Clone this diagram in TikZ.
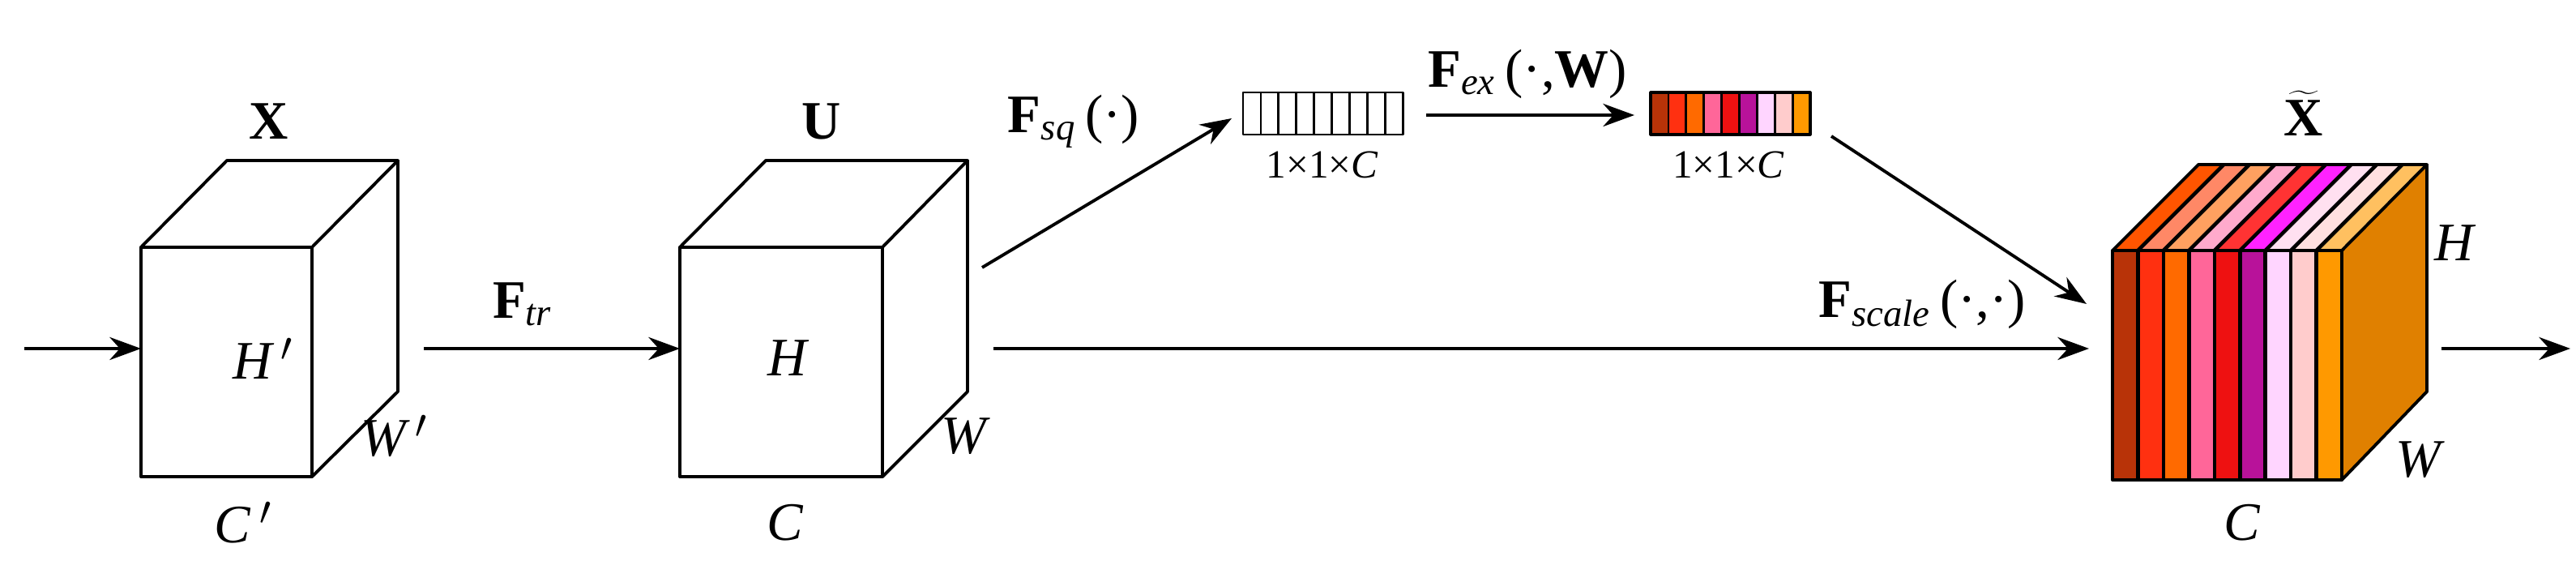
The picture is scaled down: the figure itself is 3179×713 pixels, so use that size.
\documentclass[tikz,border=0pt]{standalone}
\usepackage{fontspec}
\setmainfont{Liberation Serif}
\usetikzlibrary{arrows.meta}
\definecolor{c1}{HTML}{B83308}\definecolor{c2}{HTML}{FF3010}\definecolor{c3}{HTML}{FF6A00}
\definecolor{c4}{HTML}{FF6699}\definecolor{c5}{HTML}{EE1111}\definecolor{c6}{HTML}{B8129A}
\definecolor{c7}{HTML}{FFD5FF}\definecolor{c8}{HTML}{FFCCCC}\definecolor{c9}{HTML}{FF9900}
\definecolor{t1}{HTML}{FF5500}\definecolor{t2}{HTML}{FF8866}\definecolor{t3}{HTML}{FFA060}
\definecolor{t4}{HTML}{FFAACC}\definecolor{t5}{HTML}{FF3333}\definecolor{t6}{HTML}{FF22FF}
\definecolor{t7}{HTML}{FFE0F0}\definecolor{t8}{HTML}{FFE0E0}\definecolor{t9}{HTML}{FFC060}
\definecolor{side}{HTML}{E08000}
\tikzset{
 edge/.style={line width=1.1pt, line join=round},
 arr/.style={line width=1.1pt, -{Stealth[length=11pt,width=8pt]}},
 lab/.style={font=\fontsize{19}{22}\selectfont, inner sep=0pt},
 small/.style={font=\fontsize{14}{16}\selectfont, inner sep=0pt}
}
\begin{document}
\begin{tikzpicture}[x=0.01cm,y=-0.01cm]
\useasboundingbox (0,0) rectangle (3179,713);
% cube X
\draw[edge] (174,305) rectangle (385,588);
\draw[edge] (174,305) -- (280,198) -- (491,198) -- (385,305) (491,198) -- (491,483) -- (385,588);
\coordinate (xin) at (174,430);
\coordinate (start) at (30,430);
\node[lab] (lx) at (332,150) {\textbf{X}};
\node[lab] (lh1) at (325,442) {\textit{H\,}$'$};
\node[lab] (lw1) at (487,538) {\textit{W\,}$'$};
\node[lab] (lc1) at (300,645) {\textit{C\,}$'$};
% cube U
\draw[edge] (839,305) rectangle (1089,588);
\draw[edge] (839,305) -- (945,198) -- (1194,198) -- (1089,305) (1194,198) -- (1194,483) -- (1089,588);
\coordinate (uin) at (839,430);
\coordinate (uout) at (1226,430);
\coordinate (usq) at (1212,330);
\node[lab] (lu) at (1014,150) {\textbf{U}};
\node[lab] (lh2) at (973,442) {\textit{H}};
\node[lab] (lw2) at (1192,538) {\textit{W}};
\node[lab] (lc2) at (969,645) {\textit{C}};
% arrows
\draw[arr] (start) -- (xin);
\draw[arr] (523,430) -- (uin);
\node[lab] (ftr) at (645,375) {\textbf{F}\textsubscript{\textit{tr}}};
% white vector
\foreach \i in {0,...,8} \draw[edge, line width=0.8pt] (1534+\i*21.9,114) rectangle ++(21.9,52);
\coordinate (v1in) at (1520,146); \coordinate (v1out) at (1760,142);
\node[small] (l1) at (1632,203) {1×1×\textit{C}};
\draw[arr] (usq) -- (v1in);
\node[lab] (fsq) at (1325,150) {\textbf{F}\textsubscript{\textit{sq}}\,(·)};
% colored vector
\foreach \i in {1,...,9} \fill[c\i] (2037+\i*21.9-21.9,114) rectangle ++(21.9,52);
\foreach \i in {1,...,8} \draw[line width=0.8pt] (2037+\i*21.9,114) -- ++(0,52);
\draw[edge, line width=0.9pt] (2037,114) rectangle (2234,166);
\coordinate (v2in) at (2017,142); \coordinate (v2out) at (2260,168);
\node[small] (l2) at (2133,203) {1×1×\textit{C}};
\draw[arr] (v1out) -- (v2in);
\node[lab] (fex) at (1885,91) {\textbf{F}\textsubscript{\textit{ex}}\,(·,\textbf{W})};
% output cube
\def\sw{31.44}
\fill[side] (2890,309) -- (2995,203) -- (2995,483) -- (2890,592) -- cycle;
\foreach \i in {1,...,9}{
  \fill[c\i] (2607+\i*\sw-\sw,309) rectangle ++(\sw,283);
  \fill[t\i] (2607+\i*\sw-\sw,309) -- (2713+\i*\sw-\sw,203) -- (2713+\i*\sw,203) -- (2607+\i*\sw,309) -- cycle;
}
\foreach \i in {1,...,8}{
  \draw[line width=1.3pt] (2607+\i*\sw,309) -- ++(0,283);
  \draw[line width=1.3pt] (2607+\i*\sw,309) -- (2713+\i*\sw,203);
}
\draw[edge] (2607,309) rectangle (2890,592);
\draw[edge] (2607,309) -- (2713,203) -- (2995,203) -- (2890,309) (2995,203) -- (2995,483) -- (2890,592);
\coordinate (oin) at (2578,430); \coordinate (oin2) at (2575,375);
\coordinate (oout) at (3013,430); \coordinate (end) at (3172,430);
\node[lab] (lxt) at (2843,140) {$\widetilde{\textbf{X}}$};
\node[lab] (lh3) at (3030,300) {\textit{H}};
\node[lab] (lw3) at (2987,567) {\textit{W}};
\node[lab] (lc3) at (2767,645) {\textit{C}};
\draw[arr] (uout) -- (oin);
\draw[arr] (v2out) -- (oin2);
\draw[arr] (oout) -- (end);
\node[lab] (fsc) at (2372,375) {\textbf{F}\textsubscript{\textit{scale}}\,(·,·)};
\end{tikzpicture}
\end{document}
